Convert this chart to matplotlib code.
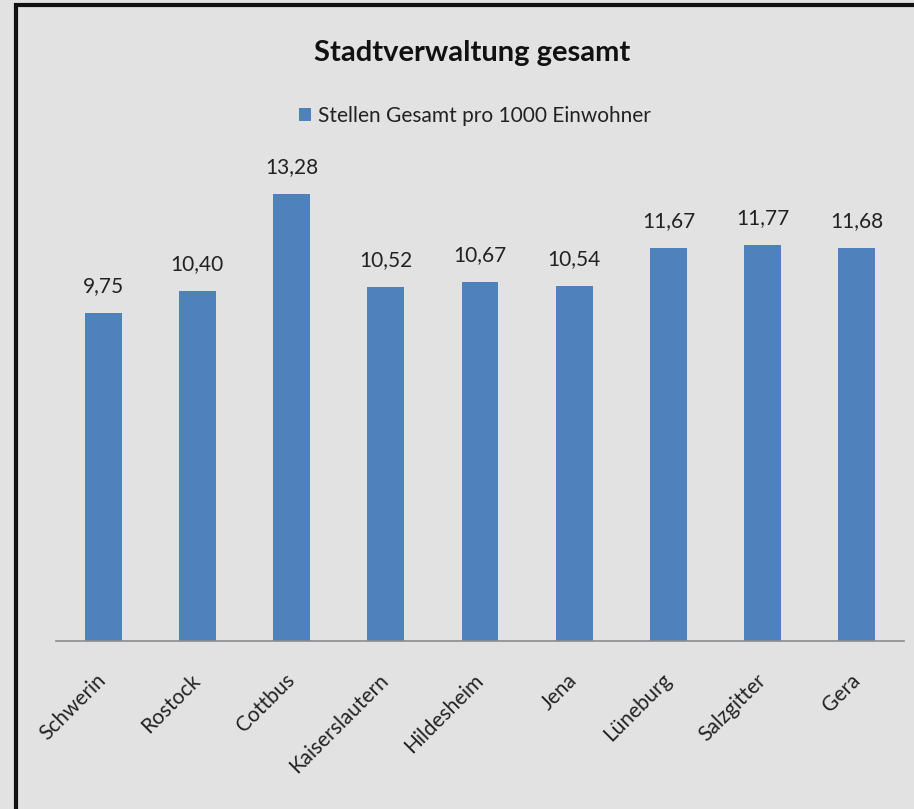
import matplotlib.pyplot as plt
from matplotlib.patches import Rectangle

# data
cities = ["Schwerin", "Rostock", "Cottbus", "Kaiserslautern", "Hildesheim",
          "Jena", "Lüneburg", "Salzgitter", "Gera"]
stellen = [9.75, 10.40, 13.28, 10.52, 10.67, 10.54, 11.67, 11.77, 11.68]
series_name = "Stellen Gesamt pro 1000 Einwohner"
title = "Stadtverwaltung gesamt"

bg = "#e2e2e2"
blue = "#4f81bd"
plt.rcParams['font.family'] = ['Lato', 'DejaVu Sans']

fig = plt.figure(figsize=(9.14, 8.09), dpi=100, facecolor=bg)
ax = fig.add_axes([0.0613, 0.2077, 0.9277, 0.5943])
ax.set_facecolor(bg)

x = range(len(cities))
bars = ax.bar(x, stellen, width=0.39, color=blue, label=series_name)
ax.set_xlim(-0.5, len(cities) - 0.5)
ax.set_ylim(0, 14.29)

for b, v in zip(bars, stellen):
    ax.text(b.get_x() + b.get_width() / 2, v + 0.5, f"{v:.2f}".replace(".", ","),
            ha="center", va="bottom", fontsize=15, color="#222222")

for s in ["top", "right", "left"]:
    ax.spines[s].set_visible(False)
ax.spines["bottom"].set_color("#8c8c8c")
ax.spines["bottom"].set_linewidth(1.2)
ax.set_yticks([])
ax.set_xticks(list(x))
ax.set_xticklabels(cities, rotation=45, ha="right", va="center",
                   rotation_mode="anchor", fontsize=15, color="#222222")
ax.tick_params(axis="x", length=0, pad=26)

fig.text(0.517, 0.935, title, ha="center", va="center", fontsize=21,
         fontweight="bold", color="#111111")
leg = fig.legend(loc="center", bbox_to_anchor=(0.52, 0.857), frameon=False,
                 fontsize=15, handlelength=0.55, handleheight=0.55,
                 handletextpad=0.35)
for t in leg.get_texts():
    t.set_color("#222222")

# frame
fig.patches.append(Rectangle((16 / 914, -0.1), 1.2, 1 - 5 / 809 + 0.1,
                             transform=fig.transFigure, fill=False,
                             edgecolor="#111111", linewidth=3, zorder=10))

fig.savefig("out.png", dpi=100, facecolor=bg)
